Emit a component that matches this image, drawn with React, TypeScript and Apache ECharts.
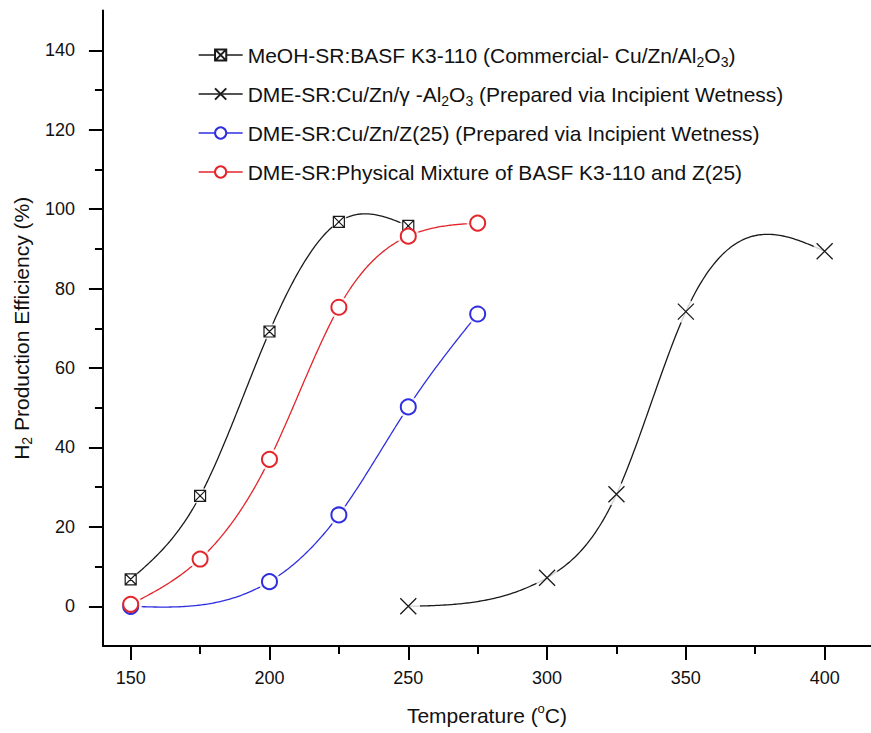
import React, { useEffect, useRef } from 'react';
import * as echarts from 'echarts';

// ---------- data ----------
const seriesNames = [
  'MeOH-SR:BASF K3-110 (Commercial- Cu/Zn/Al2O3)',
  'DME-SR:Cu/Zn/γ-Al2O3 (Prepared via Incipient Wetness)',
  'DME-SR:Cu/Zn/Z(25) (Prepared via Incipient Wetness)',
  'DME-SR:Physical Mixture of BASF K3-110 and Z(25)',
];
const legendLabels = [
  'MeOH-SR:BASF K3-110 (Commercial- Cu/Zn/Al{sub|2}O{sub|3})',
  'DME-SR:Cu/Zn/γ -Al{sub|2}O{sub|3} (Prepared via Incipient Wetness)',
  'DME-SR:Cu/Zn/Z(25) (Prepared via Incipient Wetness)',
  'DME-SR:Physical Mixture of BASF K3-110 and Z(25)',
];

const tempsMeOH = [150, 175, 200, 225, 250];
const effMeOH = [6.8, 27.8, 69.2, 96.8, 95.8];

const tempsGamma = [250, 300, 325, 350, 400];
const effGamma = [0, 7.2, 28.2, 74.2, 89.4];

const tempsZ25 = [150, 200, 225, 250, 275];
const effZ25 = [0, 6.2, 23, 50.2, 73.6];

const tempsMix = [150, 175, 200, 225, 250, 275];
const effMix = [0.5, 11.9, 37, 75.3, 93.2, 96.5];

const xMajorTicks = [150, 200, 250, 300, 350, 400];
const xMinorTicks = [175, 225, 275, 325, 375];
const yMajorTicks = [0, 20, 40, 60, 80, 100, 120, 140];
const yMinorTicks = [10, 30, 50, 70, 90, 110, 130];

// ---------- styles ----------
const FONT = '"Liberation Sans", Arial, Helvetica, sans-serif';
const BLACK = '#1a1a1a';
const BLUE = '#2f2fe0';
const RED = '#e3262c';

const SQUARE_X = 'path://M0,0 L10,0 L10,10 L0,10 Z M0,0 L10,10 M10,0 L0,10';
const CROSS = 'path://M0,0 L10,10 M10,0 L0,10';

const pairs = (xs: number[], ys: number[]) => xs.map((x, i) => [x, ys[i]]);

// natural cubic spline through the measured points (used only to draw the connecting curve)
function naturalSpline(xs: number[], ys: number[]) {
  const n = xs.length;
  const h: number[] = [];
  for (let i = 0; i < n - 1; i++) h.push(xs[i + 1] - xs[i]);
  const a = new Array(n).fill(0);
  const b = new Array(n).fill(1);
  const c = new Array(n).fill(0);
  const d = new Array(n).fill(0);
  for (let i = 1; i < n - 1; i++) {
    a[i] = h[i - 1];
    b[i] = 2 * (h[i - 1] + h[i]);
    c[i] = h[i];
    d[i] = 6 * ((ys[i + 1] - ys[i]) / h[i] - (ys[i] - ys[i - 1]) / h[i - 1]);
  }
  // Thomas algorithm
  const cp = new Array(n).fill(0);
  const dp = new Array(n).fill(0);
  cp[0] = c[0] / b[0];
  dp[0] = d[0] / b[0];
  for (let i = 1; i < n; i++) {
    const m = b[i] - a[i] * cp[i - 1];
    cp[i] = c[i] / m;
    dp[i] = (d[i] - a[i] * dp[i - 1]) / m;
  }
  const M = new Array(n).fill(0);
  M[n - 1] = dp[n - 1];
  for (let i = n - 2; i >= 0; i--) M[i] = dp[i] - cp[i] * M[i + 1];
  return (x: number) => {
    let k = 0;
    while (k < n - 2 && x > xs[k + 1]) k++;
    const hk = h[k];
    const t1 = xs[k + 1] - x;
    const t0 = x - xs[k];
    return (
      (M[k] * t1 * t1 * t1) / (6 * hk) +
      (M[k + 1] * t0 * t0 * t0) / (6 * hk) +
      (ys[k] / hk - (M[k] * hk) / 6) * t1 +
      (ys[k + 1] / hk - (M[k + 1] * hk) / 6) * t0
    );
  };
}

export default function App() {
  const ref = useRef<HTMLDivElement>(null);

  useEffect(() => {
    document.body.style.margin = '0';
    if (!ref.current) return;
    const chart = echarts.init(ref.current, undefined, { renderer: 'svg' });

    const sets = [
      { xs: tempsMeOH, ys: effMeOH, color: BLACK, symbol: SQUARE_X, size: 11, halo: 17,
        itemStyle: { color: '#fff', borderColor: BLACK, borderWidth: 1.2 } },
      { xs: tempsGamma, ys: effGamma, color: BLACK, symbol: CROSS, size: 16, halo: 24,
        itemStyle: { color: 'rgba(0,0,0,0)', borderColor: BLACK, borderWidth: 1.3 } },
      { xs: tempsZ25, ys: effZ25, color: BLUE, symbol: 'emptyCircle', size: 15, halo: 22,
        itemStyle: { color: BLUE, borderColor: BLUE, borderWidth: 1.4 } },
      { xs: tempsMix, ys: effMix, color: RED, symbol: 'emptyCircle', size: 15, halo: 22,
        itemStyle: { color: RED, borderColor: RED, borderWidth: 1.4 } },
    ];

    const curveSeries = sets.map((s, i) => {
      const f = naturalSpline(s.xs, s.ys);
      return {
        type: 'custom',
        name: 'curve' + i,
        data: pairs(s.xs, s.ys),
        encode: { x: 0, y: 1 },
        z: 2,
        silent: true,
        renderItem: (params: any, api: any) => {
          if (params.dataIndex !== 0) return null;
          const pts: number[][] = [];
          const x0 = s.xs[0];
          const x1 = s.xs[s.xs.length - 1];
          const steps = 240;
          for (let k = 0; k <= steps; k++) {
            const x = x0 + ((x1 - x0) * k) / steps;
            pts.push(api.coord([x, f(x)]));
          }
          return {
            type: 'polyline',
            shape: { points: pts },
            style: { stroke: s.color, lineWidth: 1.3, fill: 'none' },
          };
        },
      };
    });
    const haloSeries = sets.map((s, i) => ({
      type: 'scatter',
      name: 'halo' + i,
      data: pairs(s.xs, s.ys),
      symbol: 'circle',
      symbolSize: s.halo,
      itemStyle: { color: '#ffffff' },
      z: 3,
      silent: true,
    }));
    const markerSeries = sets.map((s, i) => ({
      type: 'line',
      name: seriesNames[i],
      data: pairs(s.xs, s.ys),
      symbol: s.symbol,
      symbolSize: s.size,
      showSymbol: true,
      itemStyle: s.itemStyle,
      lineStyle: { color: s.color, opacity: 0, width: 1.3 },
      z: 4,
      silent: true,
    }));

    const axisCommonLine = { show: true, onZero: false, lineStyle: { color: '#000', width: 2 } };

    chart.setOption({
      animation: false,
      backgroundColor: '#ffffff',
      grid: { left: 91.5, right: 0, top: 10.6, bottom: 81.4, containLabel: false },
      legend: {
        orient: 'vertical',
        left: 193,
        top: 36,
        itemWidth: 44,
        itemHeight: 14,
        itemGap: 11,
        selectedMode: false,
        data: seriesNames.map((n, i) => ({
          name: n,
          lineStyle: { opacity: 1, width: 1.3, color: sets[i].color },
        })),
        formatter: (name: string) => legendLabels[seriesNames.indexOf(name)],
        textStyle: {
          fontFamily: FONT,
          fontSize: 21,
          color: '#111',
          lineHeight: 28,
          rich: {
            sub: { fontFamily: FONT, fontSize: 14, lineHeight: 13, verticalAlign: 'bottom', color: '#111' },
          },
        },
      },
      xAxis: [
        {
          type: 'value',
          min: 140,
          max: 416.7,
          position: 'bottom',
          axisLine: axisCommonLine,
          axisTick: { show: true, inside: false, length: 14, customValues: xMajorTicks,
            lineStyle: { color: '#000', width: 2 } },
          axisLabel: { show: true, customValues: xMajorTicks, margin: 23, fontSize: 18,
            color: '#111', fontFamily: FONT },
          splitLine: { show: false },
          name: 'Temperature ({sup|o}C)',
          nameLocation: 'middle',
          nameGap: 56,
          nameTextStyle: {
            fontFamily: FONT, fontSize: 21, color: '#111', lineHeight: 26,
            rich: { sup: { fontFamily: FONT, fontSize: 13, lineHeight: 12, verticalAlign: 'top', color: '#111' } },
          },
        },
        {
          type: 'value',
          min: 140,
          max: 416.7,
          position: 'bottom',
          axisLine: { show: false, onZero: false },
          axisTick: { show: true, inside: false, length: 8, customValues: xMinorTicks,
            lineStyle: { color: '#000', width: 2 } },
          axisLabel: { show: false },
          splitLine: { show: false },
        },
      ],
      yAxis: [
        {
          type: 'value',
          min: -10,
          max: 150,
          position: 'left',
          axisLine: axisCommonLine,
          axisTick: { show: true, inside: false, length: 14, customValues: yMajorTicks,
            lineStyle: { color: '#000', width: 2 } },
          axisLabel: { show: true, customValues: yMajorTicks, margin: 28, fontSize: 18,
            color: '#111', fontFamily: FONT },
          splitLine: { show: false },
          name: 'H{sub|2} Production Efficiency (%)',
          nameLocation: 'middle',
          nameGap: 62,
          nameTextStyle: {
            fontFamily: FONT, fontSize: 21, color: '#111', lineHeight: 26,
            rich: { sub: { fontFamily: FONT, fontSize: 14, lineHeight: 13, verticalAlign: 'bottom', color: '#111' } },
          },
        },
        {
          type: 'value',
          min: -10,
          max: 150,
          position: 'left',
          axisLine: { show: false, onZero: false },
          axisTick: { show: true, inside: false, length: 8, customValues: yMinorTicks,
            lineStyle: { color: '#000', width: 2 } },
          axisLabel: { show: false },
          splitLine: { show: false },
        },
      ],
      series: [...curveSeries, ...haloSeries, ...markerSeries],
    });

    return () => chart.dispose();
  }, []);

  return <div ref={ref} style={{ width: 871, height: 733 }} />;
}
